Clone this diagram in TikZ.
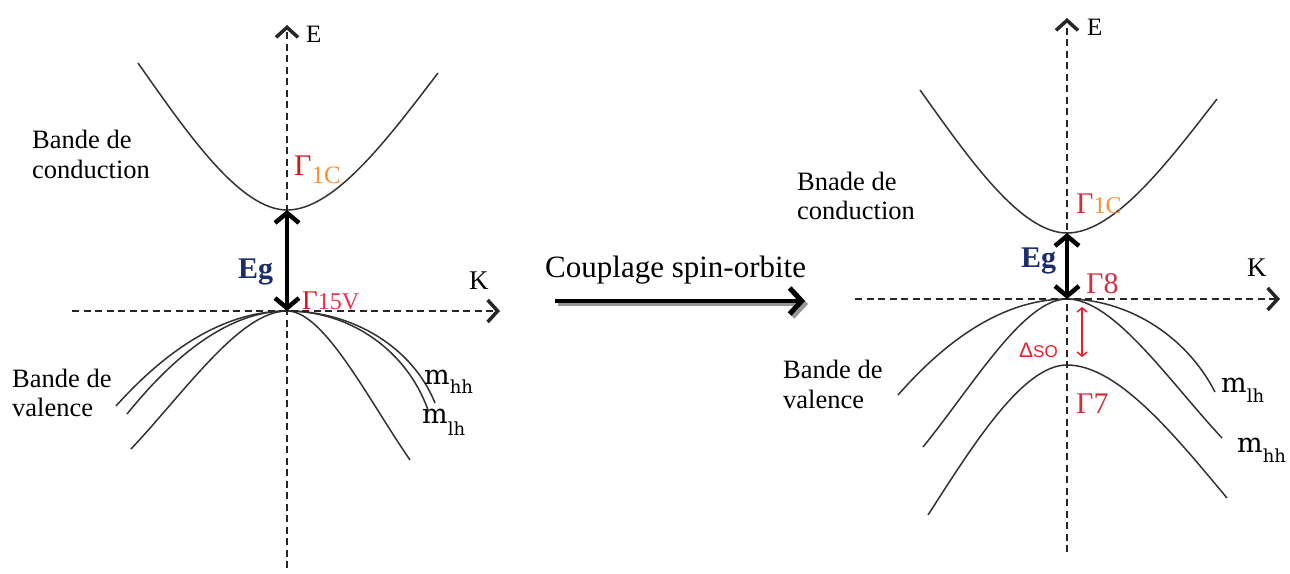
\documentclass[tikz,border=0pt]{standalone}
\usepackage{fontspec}
\setmainfont{Liberation Serif}
\newfontfamily\mfont{DejaVu Serif}
\newfontfamily\sfont{Liberation Sans}
\usetikzlibrary{arrows.meta}

\definecolor{gred}{RGB}{205,25,25}
\definecolor{gredb}{RGB}{205,50,60}
\definecolor{gorange}{RGB}{252,145,50}
\definecolor{gpink}{RGB}{238,45,80}
\definecolor{egblue}{RGB}{28,45,108}
\definecolor{bandgray}{RGB}{50,50,50}
\definecolor{dred}{RGB}{232,30,45}
\definecolor{shadowgray}{RGB}{150,150,150}

% half band: apex (#1,#2) to end (#3,#4); control factors #5,#6,#7
\newcommand\halfband[7]{\draw[band] (#1,#2) .. controls ({#1+#5*(#3-#1)},#2) and ({#1+#6*(#3-#1)},{#2+#7*(#4-#2)}) .. (#3,#4);}
\newcommand\fs[1]{\fontsize{#1}{#1}\selectfont}

\begin{document}
\begin{tikzpicture}[x=1pt,y=-1pt,
  band/.style={draw=bandgray,line width=1.5pt},
  axisline/.style={draw=black!85,line width=2pt,dash pattern=on 7pt off 4.5pt,
    -{Straight Barb[length=10pt,width=22pt,line width=3.5pt]}},
  egarrow/.style={draw=black,line width=4pt,
    {Straight Barb[length=10pt,width=24pt,line width=4.5pt]}-{Straight Barb[length=10pt,width=24pt,line width=4.5pt]}},
  soarrow/.style={draw=dred,line width=1.5pt,
    {Straight Barb[length=4pt,width=10pt]}-{Straight Barb[length=4pt,width=10pt]}},
  cparrow/.style={line width=4.5pt,-{Straight Barb[length=12pt,width=26pt,line width=5pt]}},
  lbl/.style={inner sep=0pt,anchor=base west},
  txt/.style={lbl,font=\fs{26.5}},
]
\useasboundingbox (0,0) rectangle (1290,573);

%%%%%%%%%%%%%%%% LEFT DIAGRAM %%%%%%%%%%%%%%%%
\coordinate (Lv) at (287,311);
\coordinate (Lc) at (287,210);
\coordinate (LvB) at (287,568);
\coordinate (LvT) at (287,25);
\coordinate (LhL) at (72,311);
\coordinate (LhR) at (500,311);

% conduction band
\halfband{287}{210}{138}{63}{0.32}{0.68}{0.54}
\halfband{287}{210}{438}{73}{0.32}{0.68}{0.54}
% valence bands
\halfband{287}{311}{116}{406}{0.333}{0.667}{0.333}
\halfband{287}{311}{127}{414}{0.333}{0.667}{0.36}
\halfband{287}{311}{131}{449}{0.3}{0.65}{0.58}
\halfband{287}{311}{435}{403}{0.45}{0.85}{0.4}
\halfband{287}{311}{428}{410}{0.45}{0.85}{0.4}
\halfband{287}{311}{410}{460}{0.3}{0.65}{0.58}

\draw[axisline] (LvB) -- (LvT);
\draw[axisline] (LhL) -- (LhR);
\draw[egarrow] (Lv) -- (Lc);

\node[lbl,font=\fs{25}] (LE) at (306,42) {E};
\node[lbl,font=\fs{27}] (LK) at (469,289) {K};
\node[lbl,font=\bfseries\fs{30},text=egblue] (LEg) at (238,278) {Eg};
\node[lbl] (LG1) at (294,175) {\fs{30}\color{gred}Γ\raisebox{-8pt}{\fs{25}\color{gorange}1C}};
\node[lbl] (LG15) at (302,309) {\fs{27}\color{gred}Γ{\fs{24}\color{gpink}15V}};

\node[txt] (lc1) at (32,148) {Bande de};
\node[txt] (lc2) at (32,178) {conduction};
\node[txt] (lv1) at (12,387) {Bande de};
\node[txt] (lv2) at (12,416) {valence};

\node[lbl] (Lmhh) at (424,384) {\mfont\fs{27}m\raisebox{-9pt}{\fs{18}hh}};
\node[lbl] (Lmlh) at (422,423) {\mfont\fs{27}m\raisebox{-12pt}{\fs{18}lh}};

%%%%%%%%%%%%%%%% MIDDLE ARROW %%%%%%%%%%%%%%%%
\node[lbl,font=\fs{31}] (cp) at (545,277) {Couplage spin-orbite};
\coordinate (cpa) at (555,301);
\coordinate (cpb) at (805,301);
\draw[cparrow,draw=shadowgray] ([shift={(3,3)}]cpa) -- ([shift={(3,3)}]cpb);
\draw[cparrow,draw=black] (cpa) -- (cpb);

%%%%%%%%%%%%%%%% RIGHT DIAGRAM %%%%%%%%%%%%%%%%
\coordinate (Rv) at (1067,299);
\coordinate (Rc) at (1067,233);
\coordinate (Rs) at (1067,365);
\coordinate (RvB) at (1067,552);
\coordinate (RvT) at (1067,18);
\coordinate (RhL) at (855,299);
\coordinate (RhR) at (1280,299);
\coordinate (So1) at (1082,307);
\coordinate (So2) at (1082,357);

% conduction band
\halfband{1067}{233}{920}{90}{0.32}{0.68}{0.54}
\halfband{1067}{233}{1217}{99}{0.32}{0.68}{0.54}
% light holes
\halfband{1067}{299}{898}{395}{0.333}{0.667}{0.333}
\halfband{1067}{299}{1215}{392}{0.4}{0.8}{0.38}
% heavy holes
\halfband{1067}{299}{923}{447}{0.3}{0.65}{0.58}
\halfband{1067}{299}{1222}{438}{0.3}{0.65}{0.58}
% split-off
\halfband{1067}{365}{928}{515}{0.32}{0.68}{0.54}
\halfband{1067}{365}{1227}{498}{0.32}{0.68}{0.54}

\draw[axisline] (RvB) -- (RvT);
\draw[axisline] (RhL) -- (RhR);
\draw[egarrow] (Rv) -- (Rc);
\draw[soarrow] (So1) -- (So2);

\node[lbl,font=\fs{25}] (RE) at (1087,35) {E};
\node[lbl,font=\fs{27}] (RK) at (1247,276) {K};
\node[lbl,font=\bfseries\fs{30},text=egblue] (REg) at (1021,267) {Eg};
\node[lbl] (RG1) at (1076,213) {\fs{30}\color{gredb}Γ{\fs{24}\color{gorange}1C}};
\node[lbl] (RG8) at (1086,293) {\fs{30}\color{gredb}Γ8};
\node[lbl] (RG7) at (1076,413) {\fs{30}\color{gredb}Γ7};
\node[lbl] (RSO) at (1019,357) {\sfont\color{dred}\fs{21}Δ\fs{17}SO};

\node[txt] (rc1) at (797,190) {Bnade de};
\node[txt] (rc2) at (797,219) {conduction};
\node[txt] (rv1) at (783,378) {Bande de};
\node[txt] (rv2) at (783,408) {valence};

\node[lbl] (Rmlh) at (1221,392) {\mfont\fs{27}m\raisebox{-10pt}{\fs{18}lh}};
\node[lbl] (Rmhh) at (1237,452) {\mfont\fs{27}m\raisebox{-10pt}{\fs{18}hh}};
\end{tikzpicture}
\end{document}
